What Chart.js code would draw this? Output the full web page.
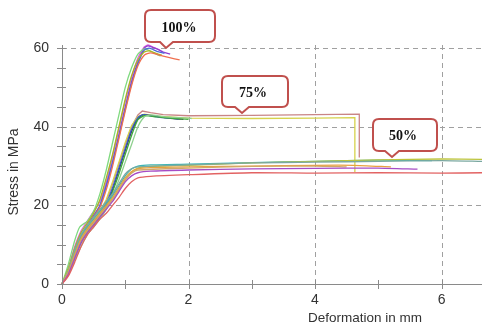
<!DOCTYPE html>
<html>
<head>
<meta charset="utf-8">
<script src="https://cdn.jsdelivr.net/npm/chart.js@4.4.1/dist/chart.umd.min.js"></script>
<style>
  body { margin: 0; background: #fff; }
  #wrap { width: 482px; height: 327px; position: relative; }
</style>
</head>
<body>
<div id="wrap"><canvas id="stressChart"></canvas></div>
<script>
// -- Data: [deformation mm, stress MPa] --

// 100% group
const s100Green = [[0,0],[0.1,5],[0.2,11],[0.28,14.5],[0.4,16],[0.5,18.5],[0.6,23],[0.7,29],[0.8,36],[0.9,43],[1.0,50],[1.1,55],[1.2,58.5],[1.3,59.8],[1.38,59.4],[1.5,58.4],[1.56,58]];
const s100Olive = [[0,0],[0.1,4],[0.2,9],[0.3,13],[0.4,15.5],[0.5,18],[0.6,21.5],[0.7,27],[0.8,33],[0.9,40],[1.0,47],[1.1,53],[1.2,57],[1.3,59],[1.38,59.3],[1.5,58.6],[1.58,58.2]];
const s100Salmon = [[0,0],[0.1,3],[0.2,7.5],[0.3,11.5],[0.4,14.5],[0.5,17],[0.6,19.5],[0.7,24],[0.8,30],[0.9,37],[1.0,44],[1.1,50.5],[1.2,55.5],[1.3,58.2],[1.4,58.8],[1.5,58.4],[1.7,57.6],[1.86,57]];
const s100Purple = [[0,0],[0.1,3.5],[0.2,8],[0.3,12],[0.4,15],[0.5,17.5],[0.6,20],[0.7,25],[0.8,31],[0.9,38],[1.0,45],[1.1,51.5],[1.2,56.5],[1.3,60],[1.36,60.6],[1.5,59.8],[1.6,59],[1.71,58.5]];
const s100Magenta = [[0,0],[0.1,4],[0.2,9.5],[0.3,13.5],[0.4,16],[0.5,18.5],[0.6,21],[0.7,26],[0.8,32.5],[0.9,39.5],[1.0,46.5],[1.1,52.5],[1.2,57.5],[1.3,60.3],[1.36,60.8],[1.45,60.2],[1.55,59.5]];
const s100Blue = [[0,0],[0.1,3],[0.2,8],[0.3,12],[0.4,14.5],[0.5,17],[0.6,20],[0.7,25],[0.8,31],[0.9,37.5],[1.0,44.5],[1.1,51],[1.2,56],[1.3,59.5],[1.38,60],[1.5,59.2],[1.62,58.7]];

// 75% group
const s75Rose = [[0,0],[0.1,3],[0.2,7.5],[0.3,11.5],[0.4,14],[0.5,16],[0.6,18],[0.7,21],[0.8,25.5],[0.9,30.5],[1.0,35.5],[1.1,40],[1.2,43],[1.27,44],[1.4,43.6],[1.6,43.1],[2,42.8],[3,42.9],[4,43.1],[4.7,43.2],[4.7,32.2]];
const s75Yellow = [[0,0],[0.1,3.5],[0.2,8],[0.3,12],[0.4,14.5],[0.5,16.5],[0.6,18.5],[0.7,21.5],[0.8,26],[0.9,31],[1.0,36],[1.1,40.3],[1.2,42.6],[1.3,43.2],[1.5,42.7],[2,42.2],[3,42.1],[4,42.2],[4.63,42.3],[4.63,28.5]];
const s75Black = [[0,0],[0.1,3],[0.2,7],[0.3,11],[0.4,13.5],[0.5,15.5],[0.6,17.5],[0.7,20],[0.8,24],[0.9,29],[1.0,34],[1.1,38.8],[1.2,42],[1.28,43],[1.4,42.9],[1.6,42.4],[1.8,42],[1.92,41.9]];
const s75Blue = [[0,0],[0.1,2.5],[0.2,6.5],[0.3,10.5],[0.4,13.5],[0.5,15.5],[0.6,17.5],[0.7,20.5],[0.8,24.5],[0.9,29.5],[1.0,34.5],[1.1,39.3],[1.2,42.3],[1.28,43.1],[1.4,42.8],[1.6,42.3],[1.85,42]];
const s75Green = [[0,0],[0.1,3],[0.2,7],[0.3,10.5],[0.4,13],[0.5,15],[0.6,17],[0.7,19.5],[0.8,23.5],[0.9,28],[1.0,33],[1.1,37.8],[1.2,41.8],[1.3,42.8],[1.5,42.5],[1.8,42.1],[2,41.9]];
const s75LightGreen = [[0,0],[0.1,2.5],[0.2,6],[0.3,9.5],[0.4,12.5],[0.5,14.5],[0.6,16.5],[0.7,19],[0.8,22.5],[0.9,26.5],[1.0,31],[1.1,35.5],[1.2,40],[1.3,42.5],[1.4,43],[1.6,42.6],[2,42.2],[2.05,42.1]];

// 50% group
const s50Teal = [[0,0],[0.1,3],[0.2,8],[0.3,12],[0.4,14.5],[0.5,16.5],[0.6,18.5],[0.7,20.5],[0.8,22.5],[0.9,25],[1.0,27.5],[1.1,29.3],[1.2,30],[1.4,30.3],[2,30.5],[3,30.9],[4,31.2],[5,31.5],[5.85,31.4]];
const s50Olive = [[0,0],[0.1,2.5],[0.2,7],[0.3,11],[0.4,13.5],[0.5,15.5],[0.6,17.5],[0.7,19.5],[0.8,21.5],[0.9,24],[1.0,26.5],[1.1,28.5],[1.2,29.5],[1.4,29.9],[2,30.2],[3,30.8],[4,31.2],[5,31.6],[6,31.8],[6.64,31.7]];
const s50Orange = [[0,0],[0.1,3],[0.2,7.5],[0.3,11.5],[0.4,14],[0.5,16],[0.6,18],[0.7,20],[0.8,22],[0.9,24.5],[1.0,27],[1.1,28.6],[1.2,29.3],[1.4,29.6],[2,29.8],[3,30],[4,30.2],[4.6,30.2],[5.2,29.8]];
const s50Grey = [[0,0],[0.1,3.5],[0.2,8.5],[0.3,12.5],[0.4,15],[0.5,17],[0.6,19],[0.7,21],[0.8,23],[0.9,25.5],[1.0,28],[1.1,29.3],[1.2,29.8],[2,30.3],[3,30.8],[4,31],[5,31.2],[6,31.4],[6.64,31.2]];
const s50Purple = [[0,0],[0.1,2.5],[0.2,6.5],[0.3,10.5],[0.4,13],[0.5,15],[0.6,17],[0.7,19],[0.8,21],[0.9,23.5],[1.0,26],[1.1,27.5],[1.2,28.3],[1.4,28.7],[2,29],[3,29.3],[4,29.4],[5,29.5],[5.62,29.2]];
const s50Red = [[0,0],[0.1,2],[0.2,5.5],[0.3,9.5],[0.4,12.5],[0.5,14.5],[0.6,16.5],[0.7,18],[0.8,20],[0.9,22],[1.0,24.3],[1.1,26],[1.2,27],[1.4,27.4],[2,27.8],[3,28.3],[4,28.2],[5,28.3],[6,28.2],[6.64,28.3]];
const s50Tan = [[0,0],[0.1,3],[0.2,7],[0.3,11],[0.4,13.5],[0.5,15.5],[0.6,17.5],[0.7,19.5],[0.8,21.5],[0.9,24],[1.0,26.5],[1.1,28.2],[1.2,29],[2,29.5],[3,29.9],[4,30],[4.5,29.8]];

// -- Axis ticks --
const xLabelTicks = [0, 2, 4, 6];
const yLabelTicks = [0, 20, 40, 60];

// -- Series table (tension 0 where the curve drops straight down) --
const seriesList = [
    { data: s50Red, color: '#e26262' },
    { data: s50Purple, color: '#a64cc6' },
    { data: s50Tan, color: '#d0a868' },
    { data: s50Orange, color: '#e8a040' },
    { data: s50Grey, color: '#7aa8a0' },
    { data: s50Olive, color: '#bcc43c' },
    { data: s50Teal, color: '#3fb6b6' },
    { data: s75LightGreen, color: '#8fd08f' },
    { data: s75Green, color: '#3ea83e' },
    { data: s75Blue, color: '#3a5cc8' },
    { data: s75Black, color: '#3a3a3a' },
    { data: s75Yellow, color: '#d6d24c', straight: true },
    { data: s75Rose, color: '#c98585', straight: true },
    { data: s100Salmon, color: '#f07050' },
    { data: s100Olive, color: '#a8b820' },
    { data: s100Blue, color: '#4a6ad8' },
    { data: s100Green, color: '#7fd97f' },
    { data: s100Purple, color: '#9040d0' },
    { data: s100Magenta, color: '#e060e0' }
];

// -- Callout boxes (pixel placement) --
const callouts = [
    { text: '100%', box: [145, 10, 215, 42], tip: [166, 48], base: [160, 173], textAt: [179, 28] },
    { text: '75%', box: [222, 76, 288, 107], tip: [242, 113], base: [235, 249], textAt: [253, 93] },
    { text: '50%', box: [373, 119, 437, 151], tip: [392, 157], base: [385, 399], textAt: [403, 136] }
];

const gridGrey = '#a0a0a0';
const axisGrey = '#8a8a8a';

// Dashed grid lines, drawn under the curves
const gridPlugin = {
    id: 'dashGrid',
    beforeDatasetsDraw(chart) {
        const ctx = chart.ctx;
        const xs = chart.scales.x;
        const ys = chart.scales.y;
        const area = chart.chartArea;
        ctx.save();
        ctx.strokeStyle = gridGrey;
        ctx.lineWidth = 1;
        ctx.setLineDash([5, 4]);
        yLabelTicks.filter(v => v !== 0).forEach(v => {
            const py = Math.round(ys.getPixelForValue(v)) + 0.5;
            ctx.beginPath();
            ctx.moveTo(area.left, py);
            ctx.lineTo(area.right, py);
            ctx.stroke();
        });
        xLabelTicks.filter(v => v !== 0).forEach(v => {
            const px = Math.round(xs.getPixelForValue(v)) + 0.5;
            ctx.beginPath();
            ctx.moveTo(px, area.bottom);
            ctx.lineTo(px, area.top);
            ctx.stroke();
        });
        ctx.restore();
    }
};

// Tick marks crossing both axes, plus axis titles and callouts
const decorPlugin = {
    id: 'decor',
    afterDraw(chart) {
        const ctx = chart.ctx;
        const xs = chart.scales.x;
        const ys = chart.scales.y;
        const area = chart.chartArea;
        ctx.save();
        ctx.strokeStyle = axisGrey;
        ctx.lineWidth = 1;
        ys.ticks.forEach(t => {
            const py = Math.round(ys.getPixelForValue(t.value)) + 0.5;
            ctx.beginPath();
            ctx.moveTo(area.left - 5, py);
            ctx.lineTo(area.left + 4, py);
            ctx.stroke();
        });
        xs.ticks.forEach(t => {
            const px = Math.round(xs.getPixelForValue(t.value)) + 0.5;
            ctx.beginPath();
            ctx.moveTo(px, area.bottom - 4);
            ctx.lineTo(px, area.bottom + 5);
            ctx.stroke();
        });

        // Axis titles
        ctx.fillStyle = '#333';
        ctx.font = '13.5px "Liberation Sans", Arial, sans-serif';
        ctx.textAlign = 'center';
        ctx.textBaseline = 'middle';
        ctx.fillText('Deformation in mm', 365, 318);
        ctx.save();
        ctx.translate(14, 172);
        ctx.rotate(-Math.PI / 2);
        ctx.font = '14px "Liberation Sans", Arial, sans-serif';
        ctx.fillText('Stress in MPa', 0, 0);
        ctx.restore();

        // Callouts
        callouts.forEach(c => {
            const [x1, y1, x2, y2] = c.box;
            const r = 6;
            ctx.beginPath();
            ctx.moveTo(x1 + r, y1);
            ctx.lineTo(x2 - r, y1);
            ctx.quadraticCurveTo(x2, y1, x2, y1 + r);
            ctx.lineTo(x2, y2 - r);
            ctx.quadraticCurveTo(x2, y2, x2 - r, y2);
            ctx.lineTo(c.base[1], y2);
            ctx.lineTo(c.tip[0], c.tip[1]);
            ctx.lineTo(c.base[0], y2);
            ctx.lineTo(x1 + r, y2);
            ctx.quadraticCurveTo(x1, y2, x1, y2 - r);
            ctx.lineTo(x1, y1 + r);
            ctx.quadraticCurveTo(x1, y1, x1 + r, y1);
            ctx.closePath();
            ctx.fillStyle = '#ffffff';
            ctx.fill();
            ctx.strokeStyle = '#c0504d';
            ctx.lineWidth = 2;
            ctx.stroke();
            ctx.fillStyle = '#111';
            ctx.font = 'bold 14px "Liberation Serif", "Times New Roman", serif';
            ctx.textAlign = 'center';
            ctx.textBaseline = 'middle';
            ctx.fillText(c.text, c.textAt[0], c.textAt[1]);
        });
        ctx.restore();
    }
};

const ctx = document.getElementById('stressChart').getContext('2d');
new Chart(ctx, {
    type: 'line',
    data: {
        datasets: seriesList.map(s => ({
            data: s.data.map(p => ({ x: p[0], y: p[1] })),
            borderColor: s.color,
            borderWidth: 1.3,
            pointRadius: 0,
            tension: s.straight ? 0 : 0.2,
            fill: false,
            clip: false
        }))
    },
    options: {
        responsive: true,
        maintainAspectRatio: false,
        animation: false,
        layout: { padding: { top: 45, left: 0, right: 0, bottom: 0 } },
        plugins: {
            legend: { display: false },
            tooltip: { enabled: false }
        },
        scales: {
            x: {
                type: 'linear',
                min: 0,
                max: 6.64,
                afterFit: (scale) => { scale.height = 43; },
                border: { display: true, color: axisGrey, width: 1 },
                grid: { display: false, drawTicks: false },
                ticks: {
                    stepSize: 1,
                    includeBounds: false,
                    maxRotation: 0,
                    autoSkip: false,
                    padding: 8,
                    color: '#333',
                    font: { family: '"Liberation Sans", Arial, sans-serif', size: 14 },
                    callback: (v) => xLabelTicks.includes(v) ? String(v) : ''
                }
            },
            y: {
                min: 0,
                max: 60.8,
                afterFit: (scale) => { scale.width = 62; },
                border: { display: true, color: axisGrey, width: 1 },
                grid: { display: false, drawTicks: false },
                ticks: {
                    stepSize: 5,
                    includeBounds: false,
                    autoSkip: false,
                    padding: 13,
                    color: '#333',
                    font: { family: '"Liberation Sans", Arial, sans-serif', size: 14 },
                    callback: (v) => yLabelTicks.includes(v) ? String(v) : ''
                }
            }
        }
    },
    plugins: [gridPlugin, decorPlugin]
});
</script>
</body>
</html>
